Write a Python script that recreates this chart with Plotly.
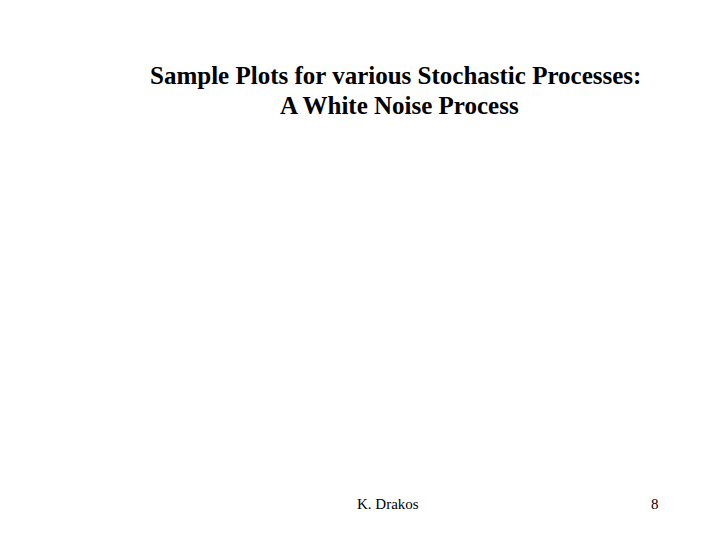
import plotly.graph_objects as go

# slide text
title_lines = ["Sample Plots for various Stochastic Processes:", "A White Noise Process"]
footer_author = "K. Drakos"
page_number = "8"

W, H = 720, 540
OFF = 8  # page body margin in the browser


def px(x, y):
    # pixel position -> paper coords
    return (x - OFF) / W, 1 - (y - OFF) / H


fig = go.Figure()

title_pos = [(395.5, 76), (400, 106)]
for text, (x, y) in zip(title_lines, title_pos):
    ax, ay = px(x, y)
    fig.add_annotation(x=ax, y=ay, xref="paper", yref="paper", text="<b>" + text + "</b>",
                       showarrow=False, xanchor="center", yanchor="middle",
                       font=dict(family="Liberation Serif", size=25, color="black"))

for text, (x, y) in zip([footer_author, page_number], [(388, 504), (655, 504)]):
    ax, ay = px(x, y)
    fig.add_annotation(x=ax, y=ay, xref="paper", yref="paper", text=text,
                       showarrow=False, xanchor="center", yanchor="middle",
                       font=dict(family="Liberation Serif", size=15, color="black"))

fig.update_xaxes(visible=False)
fig.update_yaxes(visible=False)
fig.update_layout(width=W, height=H, margin=dict(l=0, r=0, t=0, b=0),
                  paper_bgcolor="white", plot_bgcolor="white", showlegend=False)

fig.write_html("out.html")
